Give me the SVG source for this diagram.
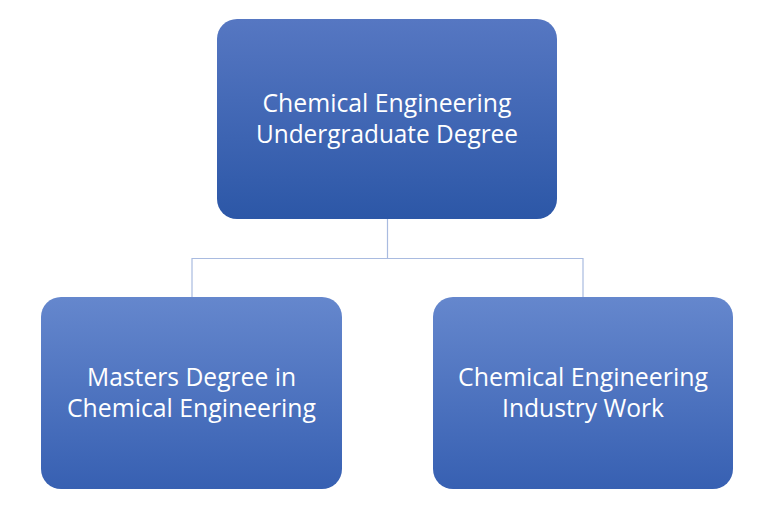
<svg xmlns="http://www.w3.org/2000/svg" width="768" height="519" viewBox="0 0 768 519">
<defs>
<linearGradient id="gTop" x1="0" y1="0" x2="0" y2="1">
<stop offset="0" stop-color="#5677c2"/>
<stop offset="1" stop-color="#2c57a7"/>
</linearGradient>
<linearGradient id="gBot" x1="0" y1="0" x2="0" y2="1">
<stop offset="0" stop-color="#6587cd"/>
<stop offset="1" stop-color="#3760b2"/>
</linearGradient>
<style>
.lbl{font-family:"Open Sans","Noto Sans",sans-serif;font-size:25px;fill:#ffffff;text-anchor:middle}
.conn{fill:none;stroke:#a9bbe0;stroke-width:1.2}
</style>
</defs>
<rect width="768" height="519" fill="#ffffff"/>
<g id="connectors">
<path class="conn" d="M387.5 219 V258.5 M192 297 V258.5 H583 V297"/>
</g>
<g id="node-undergrad">
<rect x="217" y="19" width="340" height="200" rx="20" fill="url(#gTop)"/>
<text class="lbl" x="387" y="112" textLength="249" lengthAdjust="spacingAndGlyphs">Chemical Engineering</text>
<text class="lbl" x="387" y="143" textLength="262" lengthAdjust="spacingAndGlyphs">Undergraduate Degree</text>
</g>
<g id="node-masters">
<rect x="41" y="297" width="301" height="192" rx="20" fill="url(#gBot)"/>
<text class="lbl" x="191.5" y="386" textLength="209" lengthAdjust="spacingAndGlyphs">Masters Degree in</text>
<text class="lbl" x="191.5" y="417" textLength="249" lengthAdjust="spacingAndGlyphs">Chemical Engineering</text>
</g>
<g id="node-industry">
<rect x="433" y="297" width="300" height="192" rx="20" fill="url(#gBot)"/>
<text class="lbl" x="583" y="386" textLength="250" lengthAdjust="spacingAndGlyphs">Chemical Engineering</text>
<text class="lbl" x="583" y="417" textLength="162" lengthAdjust="spacingAndGlyphs">Industry Work</text>
</g>
</svg>
